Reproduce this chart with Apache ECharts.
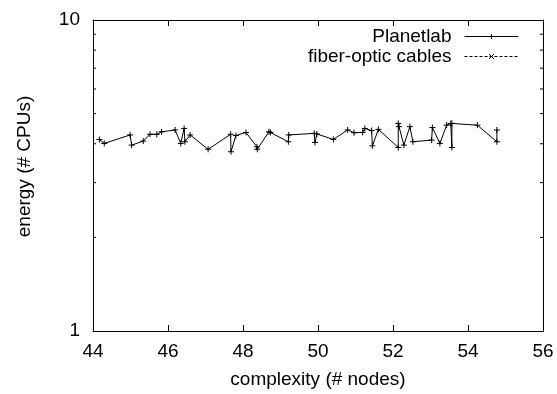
<!DOCTYPE html>
<html>
<head>
<meta charset="utf-8">
<script src="https://cdn.jsdelivr.net/npm/echarts@6/dist/echarts.min.js"></script>
<style>
  html, body { margin: 0; padding: 0; background: #fff; }
  #chartBox { width: 557px; height: 394px; }
</style>
</head>
<body>
<div id="chartBox"></div>
<script>
// complexity (# nodes) of each Planetlab run, in plot order
const planetlabX = [
  44.17, 44.30, 44.99, 45.03, 45.34, 45.52, 45.70, 45.83, 46.19, 46.34,
  46.43, 46.45, 46.59, 47.07, 47.67, 47.68, 47.81, 48.08, 48.37, 48.38,
  48.69, 48.73, 49.21, 49.22, 49.90, 49.92, 49.97, 50.41, 50.79, 50.96,
  51.19, 51.25, 51.43, 51.45, 51.61, 52.14, 52.14, 52.16, 52.29, 52.45,
  52.53, 53.03, 53.05, 53.25, 53.43, 53.54, 53.57, 53.57, 54.25, 54.77,
  54.77
];
// energy (# CPUs)
const planetlabY = [
  4.13, 4.01, 4.27, 3.96, 4.08, 4.29, 4.29, 4.37, 4.43, 4.01,
  4.48, 4.06, 4.27, 3.84, 4.29, 3.77, 4.25, 4.35, 3.91, 3.84,
  4.37, 4.35, 4.06, 4.27, 4.32, 4.04, 4.30, 4.13, 4.43, 4.34,
  4.35, 4.48, 4.41, 3.94, 4.45, 3.89, 4.65, 4.54, 3.96, 4.54,
  4.06, 4.11, 4.51, 4.01, 4.59, 4.65, 3.89, 4.65, 4.59, 4.06,
  4.43
];
// fiber-optic cables: no points drawn in the figure
const fiberX = [];
const fiberY = [];

const xTicks = [44, 46, 48, 50, 52, 54, 56];
const yMinorTicks = [2, 3, 4, 5, 6, 7, 8, 9];

const plusIcon = "path://M0,5L10,5M5,0L5,10";
const crossIcon = "path://M0,0L10,10M0,10L10,0";
const font = "'Liberation Sans', Arial, Helvetica, sans-serif";

const zip = (xs, ys) => xs.map((x, i) => [x, ys[i]]);

const myChart = echarts.init(document.getElementById("chartBox"));

const option = {
  animation: false,
  backgroundColor: "#fff",
  textStyle: { fontFamily: font, color: "#000" },
  grid: { left: 93, right: 14, top: 20, bottom: 63 },
  legend: {
    data: ["Planetlab", "fiber-optic cables"],
    orient: "vertical",
    align: "right",
    right: 33,
    top: 22,
    itemWidth: 54,
    itemHeight: 6,
    itemGap: 1,
    lineStyle: { width: 1 },
    itemStyle: { borderWidth: 1 },
    textStyle: { fontSize: 19, color: "#000", fontFamily: font, padding: [0, 8, 0, 0] },
  },
  xAxis: [
    {
      type: "value",
      min: xTicks[0],
      max: xTicks[xTicks.length - 1],
      interval: 2,
      name: "complexity (# nodes)",
      nameLocation: "middle",
      nameGap: 39,
      nameTextStyle: { fontSize: 19, color: "#000" },
      axisLine: { lineStyle: { color: "#000", width: 1 } },
      axisTick: { inside: true, length: 6, lineStyle: { color: "#000" } },
      axisLabel: { fontSize: 19, color: "#000", margin: 11 },
      splitLine: { show: false },
    },
    {
      type: "value",
      position: "top",
      min: xTicks[0],
      max: xTicks[xTicks.length - 1],
      interval: 2,
      axisLine: { lineStyle: { color: "#000", width: 1 } },
      axisTick: { inside: true, length: 6, lineStyle: { color: "#000" } },
      axisLabel: { show: false },
      splitLine: { show: false },
    },
  ],
  yAxis: [
    {
      type: "log",
      logBase: 10,
      min: 1,
      max: 10,
      name: "energy (# CPUs)",
      nameLocation: "middle",
      nameGap: 59,
      nameTextStyle: { fontSize: 19, color: "#000", padding: [0, 0, 0, 18] },
      axisLine: { show: true, lineStyle: { color: "#000", width: 1 } },
      axisTick: { inside: true, length: 6, lineStyle: { color: "#000" } },
      axisLabel: { fontSize: 19, color: "#000", margin: 13 },
      splitLine: { show: false },
    },
    {
      type: "log",
      logBase: 10,
      min: 1,
      max: 10,
      position: "right",
      axisLine: { show: true, lineStyle: { color: "#000", width: 1 } },
      axisTick: { inside: true, length: 6, lineStyle: { color: "#000" } },
      axisLabel: { show: false },
      splitLine: { show: false },
    },
  ],
  series: [
    {
      name: "Planetlab",
      type: "line",
      data: zip(planetlabX, planetlabY),
      symbol: plusIcon,
      symbolSize: 6,
      showAllSymbol: true,
      lineStyle: { color: "#000", width: 1 },
      itemStyle: { color: "#000", borderColor: "#000", borderWidth: 1 },
    },
    {
      name: "fiber-optic cables",
      type: "line",
      data: zip(fiberX, fiberY),
      symbol: crossIcon,
      symbolSize: 6,
      lineStyle: { color: "#000", width: 1, type: [3, 2] },
      itemStyle: { color: "#000", borderColor: "#000", borderWidth: 1 },
    },
    {
      // minor ticks of the log axis, on both sides
      name: "minorTicks",
      type: "custom",
      silent: true,
      data: yMinorTicks.map((v) => [xTicks[0], v]),
      renderItem: (params, api) => {
        const v = api.value(1);
        const left = api.coord([xTicks[0], v]);
        const right = api.coord([xTicks[xTicks.length - 1], v]);
        const st = { stroke: "#000", lineWidth: 1 };
        return {
          type: "group",
          children: [
            { type: "line", shape: { x1: left[0], y1: left[1], x2: left[0] + 3, y2: left[1] }, style: st },
            { type: "line", shape: { x1: right[0], y1: right[1], x2: right[0] - 3, y2: right[1] }, style: st },
          ],
        };
      },
    },
  ],
};

myChart.setOption(option);
</script>
</body>
</html>
